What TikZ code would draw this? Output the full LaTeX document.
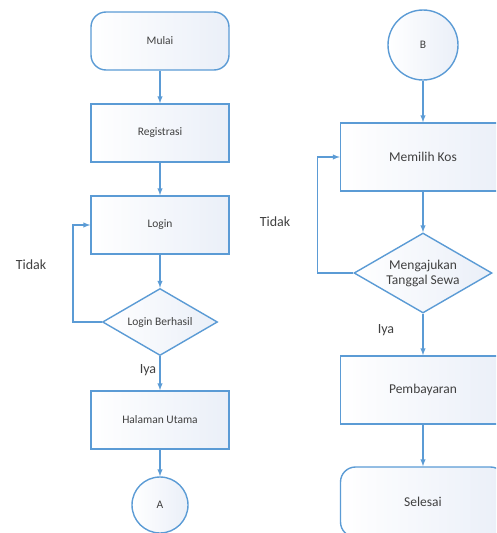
\documentclass[tikz,border=0pt]{standalone}
\usepackage{fontspec}
\setmainfont{Carlito}
\usetikzlibrary{positioning, shapes.geometric}
\definecolor{lineblue}{RGB}{91,155,213}
\definecolor{fillblue}{RGB}{234,239,248}
\definecolor{textgray}{RGB}{64,64,64}

\begin{document}
\begin{tikzpicture}[x=1pt,y=1pt,on grid,>=latex,
    every node/.style={text=textgray},
    flow/.style={draw=lineblue,line width=1.4pt,left color=white,right color=fillblue},
    kecil/.style={font=\fontsize{11.5}{13.5}\selectfont},
    besar/.style={font=\fontsize{13.5}{15}\selectfont},
    proses/.style={flow,rectangle,minimum width=138pt,minimum height=58pt,kecil},
    prosesb/.style={flow,rectangle,minimum width=165pt,minimum height=68pt,besar},
    terminal/.style={flow,rectangle,rounded corners=15pt,minimum width=138pt,minimum height=58pt,kecil},
    terminalb/.style={flow,rectangle,rounded corners=15pt,minimum width=165pt,minimum height=70pt,besar},
    keputusan/.style={flow,diamond,aspect=1.7,inner sep=0pt},
    konektor/.style={flow,circle,kecil},
    alur/.style={draw=lineblue,line width=1.4pt,->},
    ket/.style={font=\fontsize{14}{16}\selectfont}]
    \useasboundingbox (0,0) rectangle (496,-533);
    \clip (0,0) rectangle (496,-533);

    % kolom kiri
    \node[terminal] (mulai) at (160,-41) {Mulai};
    \node[proses] (registrasi) [below=92pt of mulai] {Registrasi};
    \node[proses] (login) [below=92pt of registrasi] {Login};
    \node[keputusan,kecil,minimum width=115pt,minimum height=67pt] (berhasil) [below=97pt of login] {Login Berhasil};
    \node[proses] (utama) [below=98pt of berhasil] {Halaman Utama};
    \node[konektor,minimum size=56pt] (a) [below=85pt of utama] {A};
    \node[ket] (tidak1) at (31,-265) {Tidak};
    \node[ket] (iya1) at (148,-370) {Iya};

    % kolom kanan
    \node[konektor,minimum size=70pt] (b) at (423,-45) {B};
    \node[prosesb] (memilih) [below=112pt of b] {Memilih Kos};
    \node[keputusan,besar,align=center,minimum width=138pt,minimum height=80pt] (ajukan) [below=116pt of memilih] {Mengajukan\\Tanggal Sewa};
    \node[prosesb] (bayar) [below=117pt of ajukan] {Pembayaran};
    \node[terminalb] (selesai) [below=112pt of bayar] {Selesai};
    \node[ket] (tidak2) at (275,-222) {Tidak};
    \node[ket] (iya2) at (386,-330) {Iya};

    \draw[alur] (mulai) -- (registrasi);
    \draw[alur] (registrasi) -- (login);
    \draw[alur] (login) -- (berhasil);
    \draw[alur] (berhasil) -- (utama);
    \draw[alur] (utama) -- (a);
    \draw[alur] (berhasil.west) -- +(-29,0) |- (login.west);

    \draw[alur] (b) -- (memilih);
    \draw[alur] (memilih) -- (ajukan);
    \draw[alur] (ajukan) -- (bayar);
    \draw[alur] (bayar) -- (selesai);
    \draw[alur] (ajukan.west) -- +(-36,0) |- (memilih.west);
\end{tikzpicture}
\end{document}
